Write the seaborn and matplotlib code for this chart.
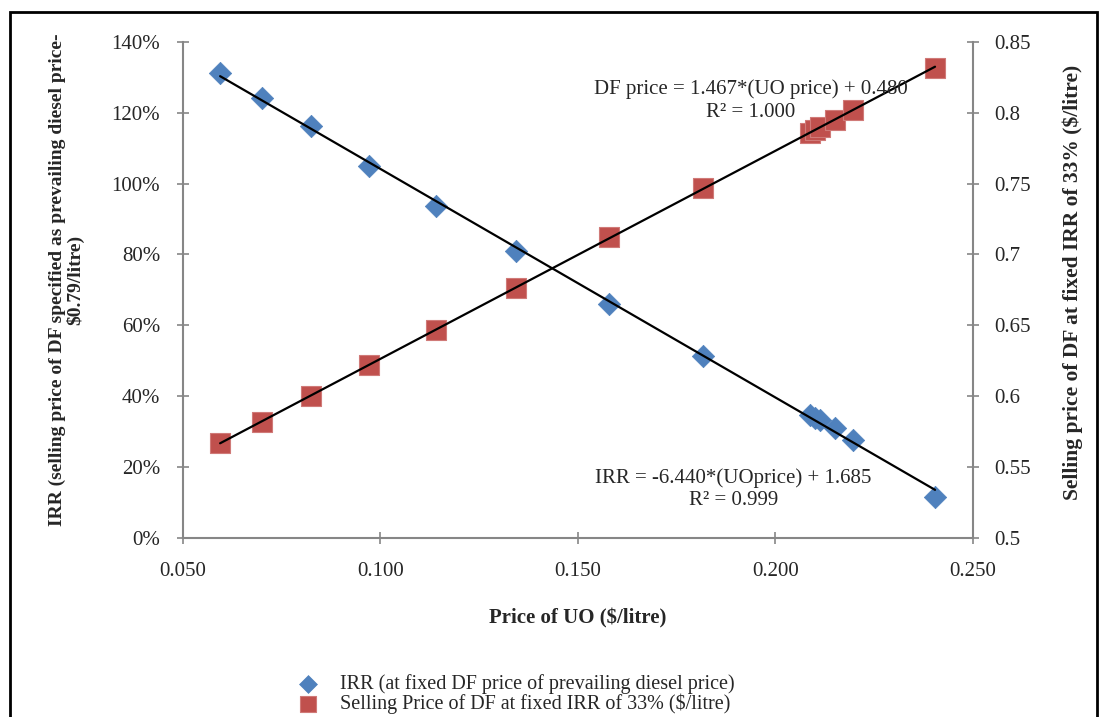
import numpy as np
import matplotlib
matplotlib.use("Agg")
import matplotlib.pyplot as plt
import seaborn as sns
from matplotlib.patches import Rectangle
from matplotlib.ticker import FuncFormatter, MultipleLocator

# values
uo_price = [0.0594, 0.0700, 0.0824, 0.0971, 0.1140, 0.1343, 0.1578, 0.1816,
            0.2087, 0.2100, 0.2113, 0.2151, 0.2196, 0.2404]
irr = [1.312, 1.242, 1.163, 1.050, 0.937, 0.810, 0.660, 0.513,
       0.347, 0.338, 0.332, 0.310, 0.276, 0.115]
df_price = [0.567, 0.582, 0.600, 0.622, 0.647, 0.676, 0.712, 0.747,
            0.786, 0.788, 0.790, 0.795, 0.802, 0.832]

irr_label = "IRR (at fixed DF price of prevailing diesel price)"
df_label = "Selling Price of DF at fixed IRR of 33% (\\$/litre)"

sns.set_style("white")
plt.rcParams["font.family"] = ["Liberation Serif", "DejaVu Serif"]
plt.rcParams["mathtext.default"] = "regular"

blue = "#4F81BD"
red = "#C0504D"
grey = "#868686"

fig = plt.figure(figsize=(10.99, 7.17), dpi=100)
ax = fig.add_axes([0.1665, 0.2501, 0.7188, 0.6913])
ax2 = ax.twinx()

sns.scatterplot(x=uo_price, y=irr, ax=ax, marker="D", s=130, color=blue,
                edgecolor=blue, linewidth=0.5, label=irr_label, zorder=2, legend=False)
sns.regplot(x=uo_price, y=irr, ax=ax, scatter=False, ci=None, truncate=True,
            color="black", line_kws={"linewidth": 1.6, "zorder": 3})

sns.scatterplot(x=uo_price, y=df_price, ax=ax2, marker="s", s=210, color=red,
                edgecolor="#D07A78", linewidth=0.8, label=df_label, zorder=2, legend=False)
sns.regplot(x=uo_price, y=df_price, ax=ax2, scatter=False, ci=None, truncate=True,
            color="black", line_kws={"linewidth": 1.6, "zorder": 3})

ax.set_xlim(0.05, 0.25)
ax.set_ylim(0, 1.4)
ax2.set_ylim(0.5, 0.85)
ax.xaxis.set_major_locator(MultipleLocator(0.05))
ax.yaxis.set_major_locator(MultipleLocator(0.2))
ax2.yaxis.set_major_locator(MultipleLocator(0.05))
ax.xaxis.set_major_formatter(FuncFormatter(lambda v, p: f"{v:.3f}"))
ax.yaxis.set_major_formatter(FuncFormatter(lambda v, p: f"{v * 100:.0f}%"))
ax2.yaxis.set_major_formatter(FuncFormatter(lambda v, p: f"{v:g}"))

for a in (ax, ax2):
    a.spines["top"].set_visible(False)
    for side in ("left", "right", "bottom"):
        a.spines[side].set_color(grey)
        a.spines[side].set_linewidth(1.5)
ax.spines["right"].set_visible(False)
ax2.spines["left"].set_visible(False)
ax2.spines["bottom"].set_visible(False)

ax.tick_params(axis="y", direction="inout", length=9, width=1.2, color=grey,
               labelsize=15, pad=12, left=True)
ax.tick_params(axis="x", direction="inout", length=9, width=1.2, color=grey,
               labelsize=15, pad=13, bottom=True)
ax2.tick_params(axis="y", direction="inout", length=9, width=1.2, color=grey,
                labelsize=15, pad=11, right=True)

ax.set_xlabel("Price of UO (\\$/litre)", fontsize=15, fontweight="bold", labelpad=20)
ax.set_ylabel("IRR (selling price of DF specified as prevailing diesel price-\n\\$0.79/litre)",
              fontsize=14, fontweight="bold", linespacing=1.0)
ax.yaxis.set_label_coords(-0.125, 0.52)
ax2.set_ylabel("Selling price of DF at fixed IRR of 33% (\\$/litre)",
               fontsize=15.5, fontweight="bold")
ax2.yaxis.set_label_coords(1.113, 0.515)

ax2.text(0.1938, 0.8165, "DF price = 1.467*(UO price) + 0.480", fontsize=15,
         ha="center", va="center")
ax2.text(0.1938, 0.8005, "R² = 1.000", fontsize=15, ha="center", va="center")
ax.text(0.1893, 0.168, "IRR = -6.440*(UOprice) + 1.685", fontsize=15,
        ha="center", va="center")
ax.text(0.1893, 0.106, "R² = 0.999", fontsize=15, ha="center", va="center")

h1, l1 = ax.get_legend_handles_labels()
h2, l2 = ax2.get_legend_handles_labels()
fig.legend(h1 + h2, l1 + l2, loc="upper left", bbox_to_anchor=(0.253, 0.074),
           frameon=False, fontsize=14.5, labelspacing=0.0, handletextpad=0.6,
           borderpad=0.0, markerscale=0.8)

fig.patches.append(Rectangle((0.009, -0.1), 0.989, 1.083, transform=fig.transFigure,
                             fill=False, edgecolor="black", linewidth=2))

fig.savefig("out.png", dpi=100)
